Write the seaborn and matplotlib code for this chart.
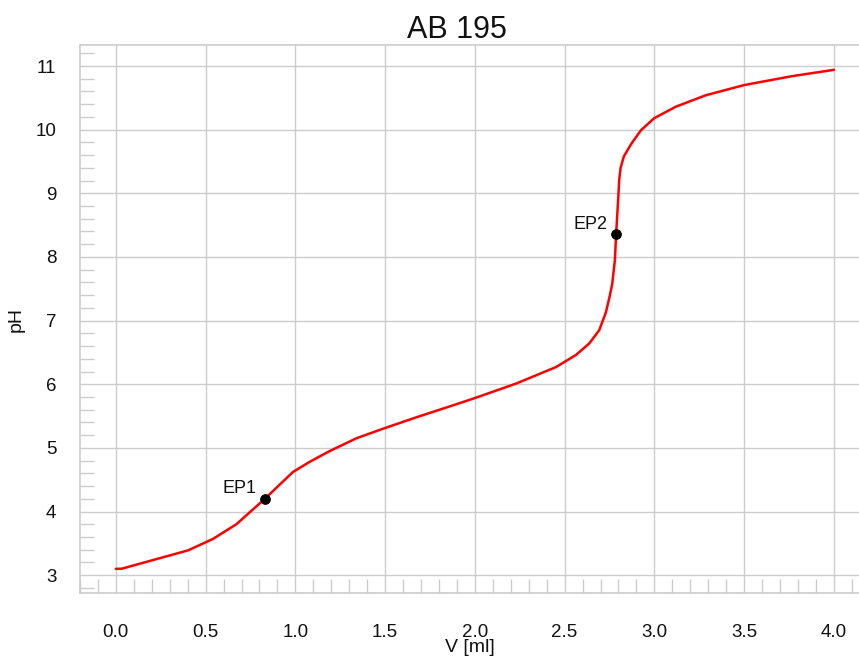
import matplotlib
matplotlib.use("Agg")
import matplotlib.pyplot as plt
from matplotlib.ticker import MultipleLocator, FormatStrFormatter
import seaborn as sns
import pandas as pd

# titration curve
volume_ml = [0.0, 0.03, 0.402, 0.541, 0.671, 0.83, 0.986, 1.079, 1.191, 1.339, 1.487,
             1.673, 1.858, 1.997, 2.229, 2.452, 2.563, 2.637, 2.693, 2.73, 2.75, 2.765,
             2.78, 2.787, 2.798, 2.804, 2.812, 2.83, 2.872, 2.925, 2.999, 3.119, 3.286,
             3.499, 3.766, 4.0]
ph_values = [3.10, 3.10, 3.39, 3.57, 3.80, 4.20, 4.62, 4.78, 4.95, 5.15, 5.30,
             5.48, 5.65, 5.78, 6.01, 6.27, 6.46, 6.64, 6.85, 7.13, 7.37, 7.57,
             7.95, 8.36, 8.89, 9.21, 9.40, 9.58, 9.78, 9.99, 10.18, 10.36, 10.54,
             10.70, 10.84, 10.94]

ep_labels = ["EP1", "EP2"]
ep_volume = [0.83, 2.787]
ep_ph = [4.20, 8.36]

sns.set_theme(style="white")
plt.rcParams['font.family'] = ['Liberation Sans', 'DejaVu Sans']

curve = pd.DataFrame({'V': volume_ml, 'pH': ph_values})
eps = pd.DataFrame({'V': ep_volume, 'pH': ep_ph, 'label': ep_labels})

fig = plt.figure(figsize=(8.59, 6.57), dpi=100)
ax = fig.add_axes([0.0931, 0.0974, 0.9069, 0.8341])

grid_col = '#cccccc'
ax.grid(True, color=grid_col, linewidth=1.0)
ax.set_axisbelow(True)

sns.lineplot(data=curve, x='V', y='pH', sort=False, color='#ff0000', linewidth=1.8, ax=ax)
sns.scatterplot(data=eps, x='V', y='pH', color='black', s=50, edgecolor='black', zorder=5, ax=ax)
for _, r in eps.iterrows():
    ax.annotate(r['label'], (r['V'], r['pH']), xytext=(-6, 1), textcoords='offset points',
                ha='right', va='bottom', fontsize=13, color='#111111')

ax.set_xlim(-0.2, 4.14)
ax.set_ylim(2.72, 11.33)
ax.xaxis.set_major_locator(MultipleLocator(0.5))
ax.xaxis.set_minor_locator(MultipleLocator(0.1))
ax.yaxis.set_major_locator(MultipleLocator(1))
ax.yaxis.set_minor_locator(MultipleLocator(0.2))
ax.xaxis.set_major_formatter(FormatStrFormatter('%.1f'))

ax.tick_params(which='major', direction='out', width=1, color=grid_col,
               labelsize=13.5, labelcolor='#111111')
ax.tick_params(axis='x', which='major', length=16, pad=6)
ax.tick_params(axis='y', which='major', length=9, pad=8)
ax.tick_params(which='minor', direction='in', length=10, width=1, color=grid_col,
               bottom=True, left=True)

for side in ['left', 'bottom', 'top']:
    ax.spines[side].set_color(grid_col)
    ax.spines[side].set_linewidth(1.2)
ax.spines['right'].set_visible(False)

ax.set_title('AB 195', fontsize=22, pad=5, color='#111111', x=0.484)
ax.set_xlabel('V [ml]', fontsize=14, labelpad=-1, color='#111111')
ax.set_ylabel('pH', fontsize=14, labelpad=8, color='#111111')

fig.savefig('out.png', dpi=100)
